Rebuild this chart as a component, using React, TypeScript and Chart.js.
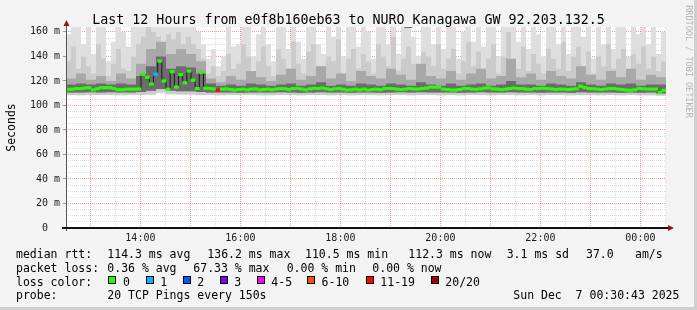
import React, { useEffect, useRef } from 'react';
import { Chart, registerables } from 'chart.js';

Chart.register(...registerables);

const MONO = '"DejaVu Sans Mono", monospace';

// ---- time axis -------------------------------------------------------
const START_HOUR = 12 + 30 / 60 + 43 / 3600; // 12:30:43
const SPAN_HOURS = 12;
const MEDIAN_STEP_MIN = 5;
const SMOKE_FINE_STEP_MIN = 6;
const SMOKE_STEP_MIN = 12;

const timeLabelHours = [14, 16, 18, 20, 22, 24];
const timeLabels = ['14:00', '16:00', '18:00', '20:00', '22:00', '00:00'];

// ---- median rtt (ms), 5-minute steps ----------------------------------
const medianMs = [
  113.2, 113.2, 113.7, 113.7, 114.2, 114.5, 112.7, 113.6, 114.5, 114.5, 114.5, 113.8,
  112.8, 112.8, 113.3, 113.3, 113.3, 113.4, 125.2, 123.0, 117.5, 125.5, 136.2, 120.0,
  113.2, 127.5, 115.0, 125.2, 118.5, 128.0, 120.6, 113.8, 127.0, 114.0, 113.8, 113.5,
  112.5, 113.3, 113.5, 113.0, 112.6, 113.0, 113.3, 112.7, 113.3, 113.5, 112.6, 113.0,
  113.3, 112.8, 113.4, 113.8, 113.6, 113.0, 113.8, 114.0, 113.4, 112.7, 113.5, 114.0,
  113.8, 114.2, 113.6, 113.0, 113.5, 113.8, 113.2, 112.5, 112.8, 113.3, 112.6, 113.3,
  112.5, 113.0, 113.3, 112.8, 113.8, 113.8, 113.8, 113.2, 113.0, 113.3, 113.8, 113.5,
  113.3, 113.8, 114.2, 114.9, 114.9, 114.9, 113.3, 113.0, 112.6, 112.6, 113.0, 113.8,
  113.8, 113.3, 113.2, 113.5, 114.2, 114.3, 113.5, 113.3, 113.0, 113.3, 113.8, 114.2,
  113.8, 113.8, 113.3, 113.0, 113.8, 113.8, 114.0, 113.8, 113.5, 113.0, 113.3, 113.3,
  113.0, 113.3, 113.6, 115.7, 114.6, 113.8, 113.6, 113.3, 113.0, 113.4, 113.8, 113.8,
  113.3, 113.0, 112.6, 112.4, 112.8, 113.8, 113.6, 113.3, 113.3, 113.3, 110.5, 112.3,
];

// lost pings (of 20) for each median step
const lossCount = [
  0, 0, 0, 0, 0, 0, 0, 0, 0, 0, 0, 0,
  0, 0, 0, 0, 0, 0, 0, 0, 0, 1, 0, 0,
  0, 0, 0, 0, 0, 0, 0, 0, 0, 0, 0, 0,
  13, 0, 0, 0, 0, 0, 0, 0, 0, 0, 0, 0,
  0, 0, 0, 0, 0, 0, 0, 0, 0, 0, 0, 0,
  0, 0, 0, 0, 0, 0, 0, 0, 0, 0, 0, 0,
  0, 0, 0, 0, 0, 0, 0, 0, 0, 0, 0, 0,
  0, 0, 0, 0, 0, 0, 0, 0, 0, 0, 0, 0,
  0, 0, 0, 0, 0, 0, 0, 0, 0, 0, 0, 0,
  0, 0, 0, 0, 0, 0, 0, 0, 0, 0, 0, 0,
  0, 0, 0, 0, 0, 0, 0, 0, 0, 0, 0, 0,
  0, 0, 0, 0, 0, 0, 0, 0, 0, 0, 0, 0,
];

// ---- smoke (ms) -------------------------------------------------------
// outer smoke, 6-minute steps
const smokeMax = [
  158, 164, 164, 150, 164, 142, 164, 164, 136, 152, 164, 160,
  148, 164, 164, 164, 164, 164, 164, 164, 164, 164, 164, 164,
  164, 164, 160, 150, 138, 146, 132, 140, 164, 148, 150, 164,
  164, 140, 158, 164, 150, 136, 164, 164, 146, 164, 152, 138,
  164, 164, 150, 142, 164, 156, 164, 140, 164, 164, 148, 164,
  160, 138, 164, 164, 150, 164, 142, 164, 164, 156, 140, 164,
  164, 150, 164, 146, 164, 164, 138, 160, 164, 152, 164, 148,
  164, 164, 140, 164, 164, 164, 152, 164, 146, 164, 158, 140,
  164, 164, 150, 164, 142, 164, 164, 156, 164, 138, 164, 150,
  164, 146, 164, 164, 140, 164, 158, 164, 150, 164, 142, 160,
];
const smokeHigh = [
  136, 148, 130, 140, 132, 126, 150, 138, 124, 134, 146, 130,
  128, 140, 150, 156, 164, 160, 156, 150, 158, 154, 160, 150,
  156, 150, 146, 138, 126, 132, 124, 128, 142, 130, 134, 150,
  140, 126, 136, 148, 132, 124, 146, 138, 128, 152, 134, 126,
  144, 150, 132, 128, 140, 136, 154, 126, 138, 146, 130, 142,
  136, 126, 150, 140, 132, 156, 128, 138, 148, 134, 126, 144,
  140, 132, 150, 130, 138, 146, 126, 136, 152, 132, 144, 130,
  138, 150, 126, 140, 160, 136, 130, 148, 128, 142, 134, 126,
  146, 138, 130, 152, 128, 140, 148, 132, 144, 126, 140, 132,
  150, 130, 138, 146, 126, 142, 134, 148, 130, 140, 128, 136,
];
// inner smoke, 12-minute steps
const smokeMid = [
  122, 126, 121, 124, 120, 126, 122, 134, 146, 152,
  142, 146, 142, 136, 122, 119, 124, 121, 128, 123,
  120, 125, 130, 121, 124, 132, 122, 126, 120, 128,
  124, 122, 130, 125, 121, 134, 124, 122, 128, 121,
  126, 130, 122, 124, 138, 123, 126, 121, 128, 124,
  122, 132, 125, 121, 128, 123, 130, 121, 125, 123,
];
const smokeCore = [
  117, 118, 117, 118, 117, 118, 117, 124, 132, 140,
  130, 132, 131, 126, 118, 116, 117, 116, 118, 117,
  116, 117, 118, 116, 117, 119, 116, 117, 116, 118,
  117, 116, 118, 117, 116, 119, 117, 116, 118, 116,
  117, 118, 116, 117, 120, 117, 117, 116, 118, 117,
  116, 119, 117, 116, 118, 117, 118, 116, 117, 117,
];
const smokeCoreLow = [
  110.6, 110.5, 110.8, 110.6, 110.7, 110.5, 110.6, 111.0, 112.0, 113.5,
  112.0, 111.5, 111.5, 111.0, 110.5, 110.6, 110.5, 110.4, 110.6, 110.5,
  110.5, 110.7, 110.6, 110.4, 110.6, 110.8, 110.5, 110.6, 110.4, 110.6,
  110.5, 110.4, 110.6, 110.7, 110.5, 110.8, 110.6, 110.5, 110.6, 110.4,
  110.6, 110.7, 110.5, 110.6, 110.8, 110.5, 110.6, 110.4, 110.6, 110.5,
  110.4, 110.7, 110.6, 110.5, 110.6, 110.4, 110.6, 110.3, 110.5, 109.8,
];
const smokeMin = [
  108.5, 108.4, 108.6, 108.5, 108.5, 108.3, 108.5, 108.6, 109.0, 110.5,
  109.2, 109.0, 109.0, 108.6, 108.5, 108.4, 108.5, 108.6, 108.5, 108.3,
  108.4, 108.6, 108.5, 108.3, 108.5, 108.6, 108.4, 108.5, 108.3, 108.5,
  108.6, 108.4, 108.5, 108.6, 108.3, 108.5, 108.6, 108.4, 108.5, 108.3,
  108.5, 108.6, 108.4, 108.5, 108.6, 108.4, 108.5, 108.3, 108.5, 108.6,
  108.4, 108.5, 108.6, 108.3, 108.5, 108.4, 108.5, 108.3, 108.4, 108.0,
];

// ---- legend -----------------------------------------------------------
const lossClassLabels = ['0', '1', '2', '3', '4-5', '6-10', '11-19', '20/20'];
const lossClassColors = ['#26ff00', '#00b8ff', '#0059ff', '#7e00ff', '#ff00ff', '#ff5500', '#ff0000', '#a10000'];
const rttStats = ['114.3 ms avg', '136.2 ms max', '110.5 ms min', '112.3 ms now', '3.1 ms sd', '37.0', 'am/s'];
const lossStats = ['0.36 % avg', '67.33 % max', '0.00 % min', '0.00 % now'];
const probeText = '20 TCP Pings every 150s';
const dateText = 'Sun Dec  7 00:30:43 2025';
const titleText = 'Last 12 Hours from e0f8b160eb63 to NURO_Kanagawa GW 92.203.132.5';

const lossClassOf = (n: number) =>
  n === 0 ? 0 : n === 1 ? 1 : n === 2 ? 2 : n === 3 ? 3 : n <= 5 ? 4 : n <= 10 ? 5 : n < 20 ? 6 : 7;

const halfHourTicks = Array.from({ length: 24 }, (_, i) => 13 + i * 0.5);
const yGridMs = Array.from({ length: 33 }, (_, i) => i * 5);

const MAJOR_GRID = 'rgba(255,0,0,0.38)';
const MINOR_GRID = 'rgba(130,130,130,0.27)';

const tickVal = (c: any) => (c && c.tick && typeof c.tick.value === 'number' ? c.tick.value : NaN);

const toSteps = (arr: number[], stepMin: number) => {
  const pts = arr.map((v, i) => ({ x: START_HOUR + (i * stepMin) / 60, y: v }));
  pts.push({ x: START_HOUR + (arr.length * stepMin) / 60, y: arr[arr.length - 1] });
  return pts;
};

const band = (lo: number[], loStep: number, hi: number[], hiStep: number, color: string, order: number) => [
  {
    type: 'line', data: toSteps(lo, loStep), stepped: 'before', fill: false,
    borderColor: 'rgba(0,0,0,0)', borderWidth: 0, pointRadius: 0, order,
  },
  {
    type: 'line', data: toSteps(hi, hiStep), stepped: 'before', fill: '-1',
    backgroundColor: color, borderColor: 'rgba(0,0,0,0)', borderWidth: 0, pointRadius: 0, order,
  },
];

const framePlugin = {
  id: 'rrdFrame',
  beforeDraw(chart: any) {
    const { ctx, width, height, chartArea: a } = chart;
    ctx.save();
    ctx.fillStyle = '#f3f3f3';
    ctx.fillRect(0, 0, width, height);
    ctx.fillStyle = '#cfcfcf';
    ctx.fillRect(width - 3, 0, 3, height);
    ctx.fillRect(0, height - 3, width, 3);
    ctx.fillStyle = '#ffffff';
    ctx.fillRect(a.left, a.top, a.right - a.left, a.bottom - a.top);
    ctx.restore();
  },
  afterDraw(chart: any) {
    const { ctx, chartArea: a, width } = chart;
    ctx.save();
    ctx.setLineDash([]);
    ctx.strokeStyle = '#555';
    ctx.lineWidth = 1;
    ctx.beginPath();
    ctx.moveTo(a.left + 0.5, a.bottom + 3);
    ctx.lineTo(a.left + 0.5, a.top - 2);
    ctx.stroke();
    ctx.strokeStyle = '#111';
    ctx.lineWidth = 2;
    ctx.beginPath();
    ctx.moveTo(a.left - 4, a.bottom);
    ctx.lineTo(a.right + 3, a.bottom);
    ctx.stroke();
    ctx.fillStyle = '#951515';
    ctx.beginPath();
    ctx.moveTo(a.left + 0.5 - 3, a.top - 1);
    ctx.lineTo(a.left + 0.5 + 3, a.top - 1);
    ctx.lineTo(a.left + 0.5, a.top - 7);
    ctx.closePath();
    ctx.fill();
    ctx.beginPath();
    ctx.moveTo(a.right + 2, a.bottom - 3);
    ctx.lineTo(a.right + 2, a.bottom + 3);
    ctx.lineTo(a.right + 8, a.bottom);
    ctx.closePath();
    ctx.fill();

    ctx.fillStyle = '#000';
    ctx.font = `13.3px ${MONO}`;
    ctx.textAlign = 'center';
    ctx.textBaseline = 'alphabetic';
    ctx.fillText(titleText, width / 2, 24);

    ctx.save();
    ctx.font = `11.5px ${MONO}`;
    ctx.translate(15, 127.5);
    ctx.rotate(-Math.PI / 2);
    ctx.fillText('Seconds', 0, 0);
    ctx.restore();

    ctx.save();
    ctx.fillStyle = '#b4b4b4';
    ctx.font = `8.5px ${MONO}`;
    ctx.translate(688, 61.5);
    ctx.rotate(Math.PI / 2);
    ctx.textBaseline = 'middle';
    ctx.fillText('RRDTOOL / TOBI OETIKER', 0, 0);
    ctx.restore();

    ctx.font = `11.5px ${MONO}`;
    ctx.textAlign = 'left';
    ctx.fillStyle = '#000';
    const rows: [number, number, string][] = [
      [16, 257.7, 'median rtt:'],
      [107.3, 257.7, rttStats[0]],
      [207.3, 257.7, rttStats[1]],
      [305, 257.7, rttStats[2]],
      [408.3, 257.7, rttStats[3]],
      [506.7, 257.7, rttStats[4]],
      [586, 257.7, rttStats[5]],
      [635, 257.7, rttStats[6]],
      [16, 271.6, 'packet loss:'],
      [107.3, 271.6, lossStats[0]],
      [193.3, 271.6, lossStats[1]],
      [286.7, 271.6, lossStats[2]],
      [372.3, 271.6, lossStats[3]],
      [16, 285.5, 'loss color:'],
      [16, 299.4, 'probe:'],
      [107.3, 299.4, probeText],
      [513.3, 299.4, dateText],
    ];
    rows.forEach(([x, y, t]) => ctx.fillText(t, x, y));
    const boxX = [108.3, 145.7, 182.7, 219.7, 256.7, 307, 365.7, 430.7];
    lossClassLabels.forEach((lab, i) => {
      const bx = Math.round(boxX[i]);
      ctx.fillStyle = lossClassColors[i];
      ctx.fillRect(bx, 276, 8, 8);
      ctx.strokeStyle = '#000';
      ctx.lineWidth = 1;
      ctx.strokeRect(bx + 0.5, 276.5, 7, 7);
      ctx.fillStyle = '#000';
      ctx.fillText(lab, boxX[i] + 14.6, 285.5);
    });
    ctx.restore();
  },
};

export default function App() {
  const ref = useRef<HTMLCanvasElement>(null);
  useEffect(() => {
    Chart.defaults.font.family = MONO;
    const medianBars = {
      type: 'bar',
      data: medianMs.map((v, i) => ({
        x: START_HOUR + ((i + 0.5) * MEDIAN_STEP_MIN) / 60,
        y: [v - 1, v + 1],
      })),
      backgroundColor: medianMs.map((_, i) => lossClassColors[lossClassOf(lossCount[i])]),
      borderWidth: 0,
      barPercentage: 1,
      categoryPercentage: 1,
      grouped: false,
      order: 1,
    };
    const medianLine = {
      type: 'line',
      data: toSteps(medianMs, MEDIAN_STEP_MIN),
      stepped: 'before',
      fill: false,
      borderColor: '#1a1a1a',
      borderWidth: 1,
      pointRadius: 0,
      order: 2,
    };
    const datasets: any[] = [
      ...band(smokeMin, SMOKE_STEP_MIN, smokeMax, SMOKE_FINE_STEP_MIN, '#dedede', 10),
      ...band(smokeMin, SMOKE_STEP_MIN, smokeHigh, SMOKE_FINE_STEP_MIN, '#cbcbcb', 9),
      ...band(smokeCoreLow, SMOKE_STEP_MIN, smokeMid, SMOKE_STEP_MIN, '#a8a8a8', 8),
      ...band(smokeCoreLow, SMOKE_STEP_MIN, smokeCore, SMOKE_STEP_MIN, '#6c6c6c', 7),
      medianLine,
      medianBars,
    ];
    const chart = new Chart(ref.current as HTMLCanvasElement, {
      type: 'bar',
      data: { datasets },
      options: {
        responsive: false,
        animation: false,
        devicePixelRatio: 1,
        events: [],
        layout: { padding: { left: 0, right: 31, top: 27, bottom: 62 } },
        plugins: { legend: { display: false }, tooltip: { enabled: false }, title: { display: false } },
        scales: {
          x: {
            type: 'linear',
            offset: false,
            min: START_HOUR,
            max: START_HOUR + SPAN_HOURS,
            z: 1,
            afterFit: (s: any) => { s.height = 20; },
            afterBuildTicks: (s: any) => { s.ticks = halfHourTicks.map((v) => ({ value: v })); },
            grid: {
              offset: false,
              color: (c: any) => {
                const v = tickVal(c);
                return Math.abs(v - Math.round(v)) < 1e-6 ? MAJOR_GRID : MINOR_GRID;
              },
              lineWidth: 1,
              drawTicks: false,
            },
            border: { display: false, dash: [1, 1] },
            ticks: {
              autoSkip: false,
              maxRotation: 0,
              padding: 4,
              color: '#1a1a1a',
              font: { family: MONO, size: 10 },
              callback: (v: any) => {
                const idx = timeLabelHours.findIndex((h) => Math.abs(h - Number(v)) < 1e-6);
                return idx >= 0 ? timeLabels[idx] : '';
              },
            },
          },
          y: {
            type: 'linear',
            min: 0,
            max: 164,
            z: 1,
            afterFit: (s: any) => { s.width = 66; },
            afterBuildTicks: (s: any) => { s.ticks = yGridMs.map((v) => ({ value: v })); },
            grid: {
              color: (c: any) => (tickVal(c) % 20 === 0 ? MAJOR_GRID : MINOR_GRID),
              tickColor: (c: any) => (tickVal(c) % 20 === 0 ? '#999' : 'rgba(0,0,0,0)'),
              tickLength: 3,
              drawTicks: true,
              lineWidth: 1,
            },
            border: { display: false, dash: [1, 1] },
            ticks: {
              autoSkip: false,
              padding: 3,
              color: '#1a1a1a',
              font: { family: MONO, size: 10 },
              callback: (v: any) => (Number(v) % 20 === 0 ? (Number(v) === 0 ? '0  ' : `${v} m`) : ''),
            },
          },
        },
      } as any,
      plugins: [framePlugin],
    } as any);
    return () => chart.destroy();
  }, []);
  return (
    <div style={{ position: 'absolute', left: 0, top: 0, width: 697, height: 310 }}>
      <canvas ref={ref} width={697} height={310} style={{ display: 'block', width: 697, height: 310 }} />
    </div>
  );
}
